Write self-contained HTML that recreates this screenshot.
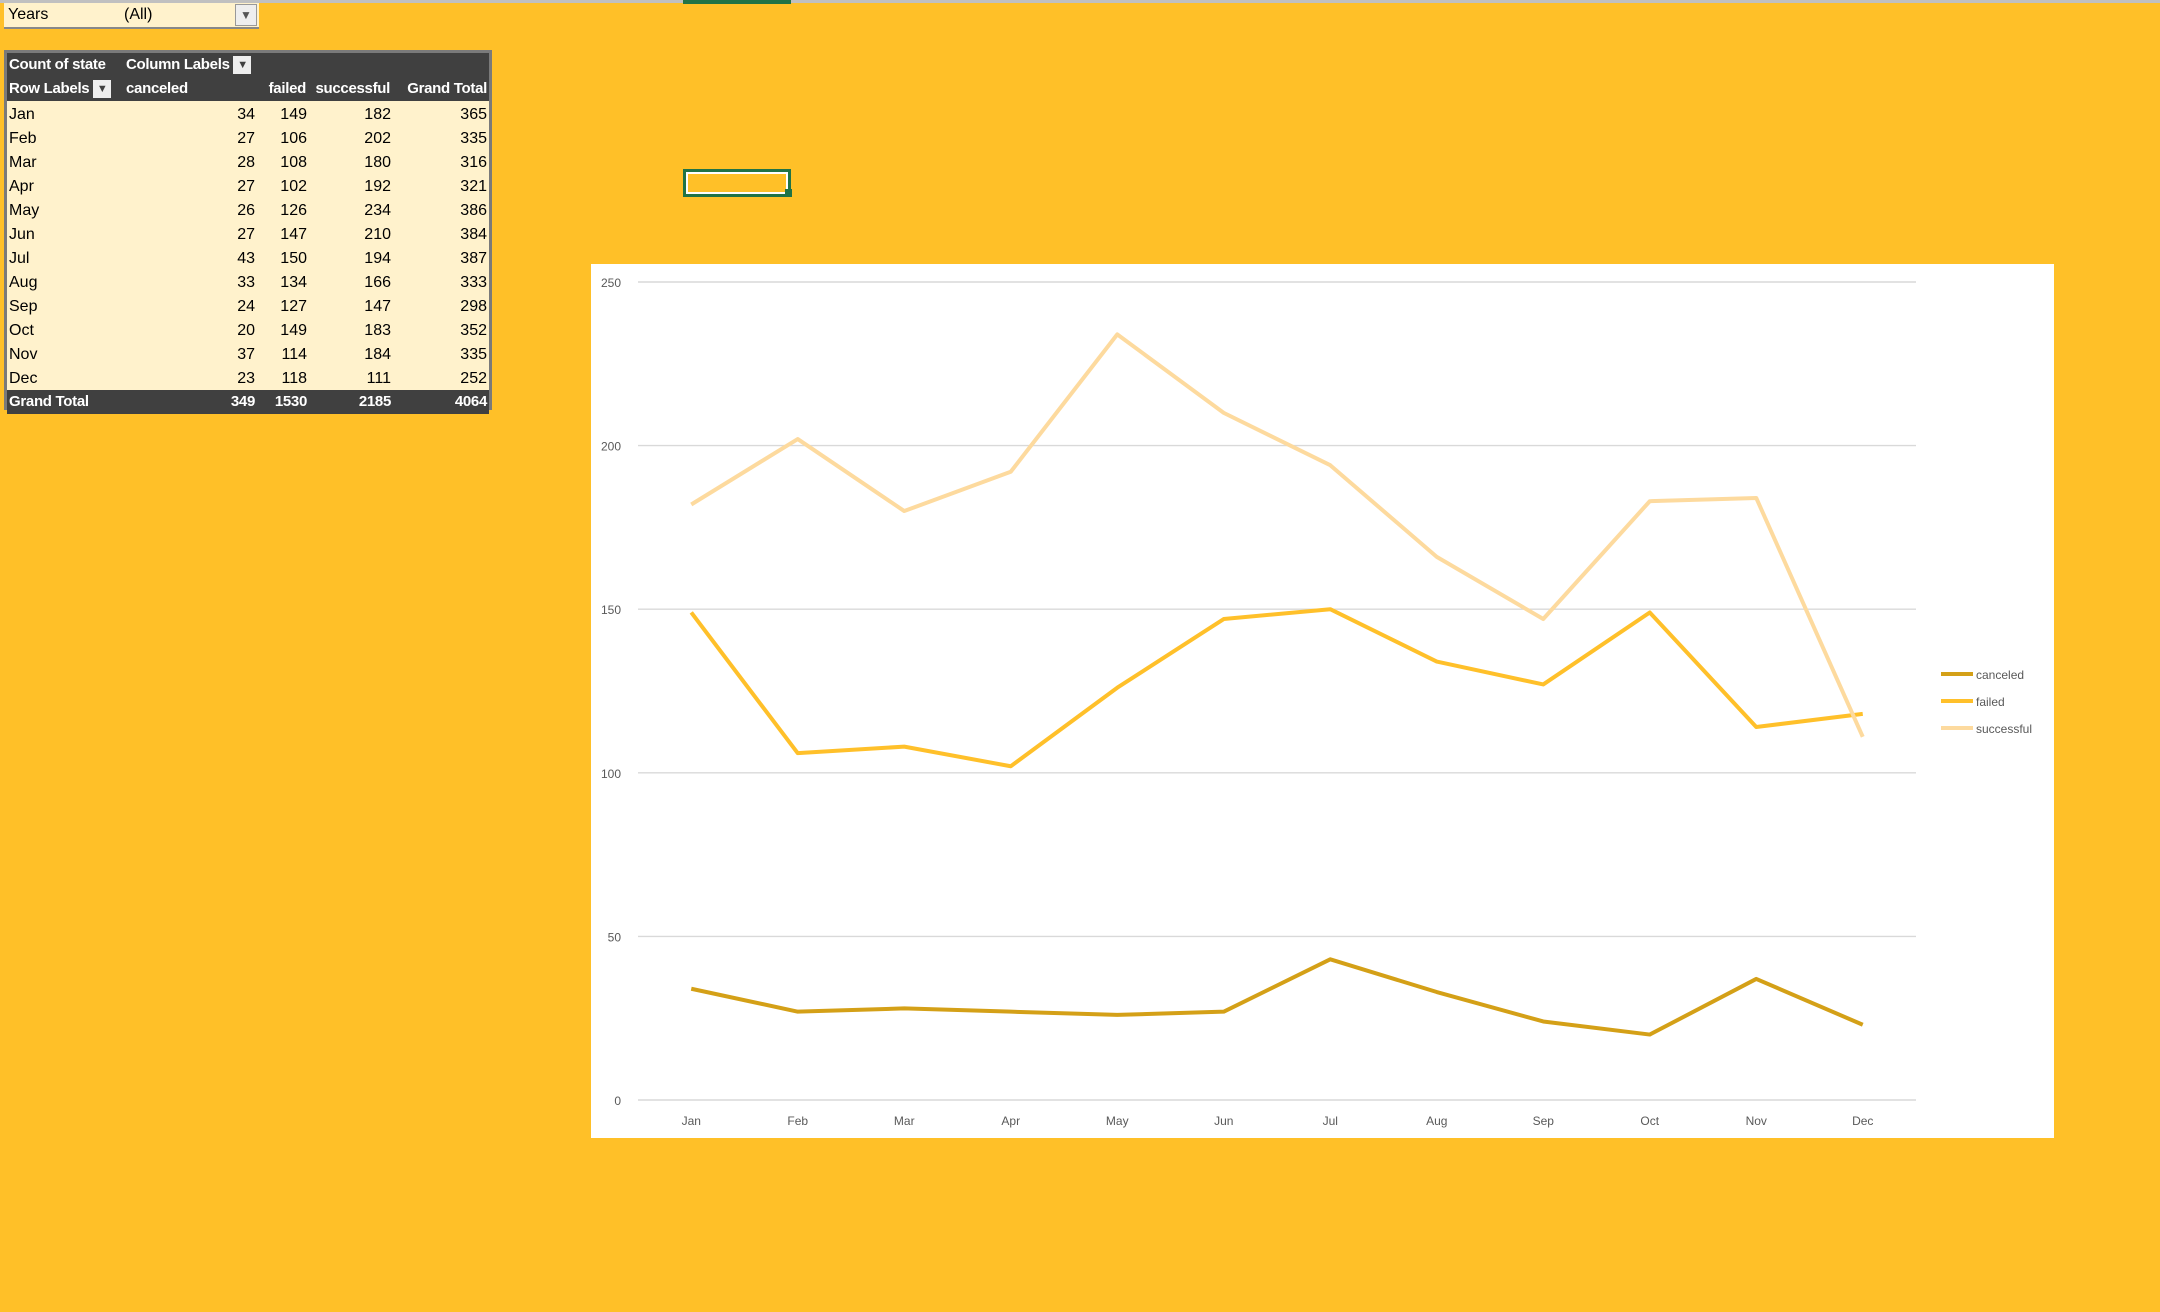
<!DOCTYPE html>
<html><head><meta charset="utf-8"><style>
body{margin:0;width:2160px;height:1312px;background:#FFC028;position:relative;overflow:hidden;font-family:"Liberation Sans",sans-serif}
.abs{position:absolute}
#tbl{left:4px;top:50px;width:488px;height:360px;border:3px solid #7a7a7a;box-sizing:border-box;background:#FFF2CC}
.row{position:absolute;left:0;width:482px;height:24px;font-size:16px;line-height:24px;color:#000}
.row span{position:absolute}
.dark{background:#404040;color:#fff;font-weight:bold;font-size:15px;letter-spacing:-0.3px}
</style></head><body>
<div class="abs" style="left:0;top:0;width:2160px;height:3px;background:#c0c0c0"></div>
<div class="abs" style="left:683px;top:0;width:108px;height:4px;background:#217346"></div>
<div class="abs" style="left:4px;top:3px;width:255px;height:24px;background:#FFF2CC;border-bottom:2px solid #888;font-size:16px;line-height:24px">
<span style="position:absolute;left:4px">Years</span><span style="position:absolute;left:120px">(All)</span>
<span style="position:absolute;right:2px;top:1px;width:20px;height:20px;background:#eee;border:1px solid #999;font-size:12px;text-align:center;line-height:20px;color:#555">▼</span></div>
<div class="abs" style="left:683px;top:169px;width:102px;height:22px;border:3px solid #217346;outline:2px solid #fff;outline-offset:-5px"></div>
<div class="abs" style="left:785px;top:189px;width:7px;height:8px;background:#217346"></div>
<div id="tbl" class="abs"></div>
<svg id="chart" class="abs" style="left:591px;top:264px" width="1463" height="874"></svg>
<script>
const months=["Jan","Feb","Mar","Apr","May","Jun","Jul","Aug","Sep","Oct","Nov","Dec"];
const canceled=[34,27,28,27,26,27,43,33,24,20,37,23];
const failed=[149,106,108,102,126,147,150,134,127,149,114,118];
const successful=[182,202,180,192,234,210,194,166,147,183,184,111];
const yTicks=[0,50,100,150,200,250];
const seriesNames=["canceled","failed","successful"];
const colors=["#D4A017","#FFC02A","#FDDA9E"];

const tbl=document.getElementById('tbl');
const btn=' <span style="position:relative;display:inline-block;width:18px;height:18px;background:#eee;color:#404040;font-size:11px;line-height:18px;text-align:center;vertical-align:middle">▼</span>';
function mkRow(top,cells,cls,name){
  const r=document.createElement('div');r.className='row '+(cls||'');r.style.top=top+'px';
  
  
  cells.forEach(c=>{const s=document.createElement('span');
    if(c[2])s.style.right=c[1]+'px';else s.style.left=c[1]+'px';s.innerHTML=c[0]+(c[3]||'');r.appendChild(s);});
  tbl.appendChild(r);return r;}
mkRow(0,[["Count of state",2],["Column Labels",119,0,btn]],'dark','pivot-header-1');
mkRow(24,[["Row Labels",2,0,btn],["canceled",119],["failed",183,1],["successful",99,1],["Grand Total",2,1]],'dark','pivot-header-2');
months.forEach((m,i)=>{
  mkRow(50+i*24,[[m,2],[canceled[i],234,1],[failed[i],182,1],[successful[i],98,1],[canceled[i]+failed[i]+successful[i],2,1]],'','pivot-row-'+m.toLowerCase());
});
const sum=a=>a.reduce((x,y)=>x+y,0);
mkRow(337,[["Grand Total",2],[sum(canceled),234,1],[sum(failed),182,1],[sum(successful),98,1],[sum(canceled)+sum(failed)+sum(successful),2,1]],'dark','pivot-grand-total');

const svg=document.getElementById('chart');const NS='http://www.w3.org/2000/svg';
function el(t,a){const e=document.createElementNS(NS,t);for(const k in a)e.setAttribute(k,a[k]);svg.appendChild(e);return e;}
const r=el('rect',{x:0,y:0,width:1463,height:874,fill:'#fff'});


const px0=47,px1=1325,py0=836,py1=18;
const xs=i=>px0+(i+0.5)*(px1-px0)/months.length;
const ys=v=>py0-(v/250)*(py0-py1);
yTicks.forEach(t=>{
  const g=el('line',{x1:px0,x2:px1,y1:ys(t),y2:ys(t),stroke:'#d9d9d9','stroke-width':1.4});
  
  
  const tx=el('text',{x:30,y:ys(t)+5,'text-anchor':'end','font-size':12,fill:'#595959'});tx.textContent=t;
  
  
});
months.forEach((m,i)=>{
  const tx=el('text',{x:xs(i),y:861,'text-anchor':'middle','font-size':12,fill:'#595959'});tx.textContent=m;
  
  
});
[canceled,failed,successful].forEach((d,k)=>{
  const p=el('polyline',{points:d.map((v,i)=>xs(i)+','+ys(v)).join(' '),fill:'none',stroke:colors[k],'stroke-width':4,'stroke-linejoin':'round'});
  
  
  const ly=410+k*27;
  const l=el('line',{x1:1350,x2:1382,y1:ly,y2:ly,stroke:colors[k],'stroke-width':4});
  
  
  const t=el('text',{x:1385,y:ly+5,'font-size':12,fill:'#595959'});t.textContent=seriesNames[k];
  
  
});
</script>
</body></html>
